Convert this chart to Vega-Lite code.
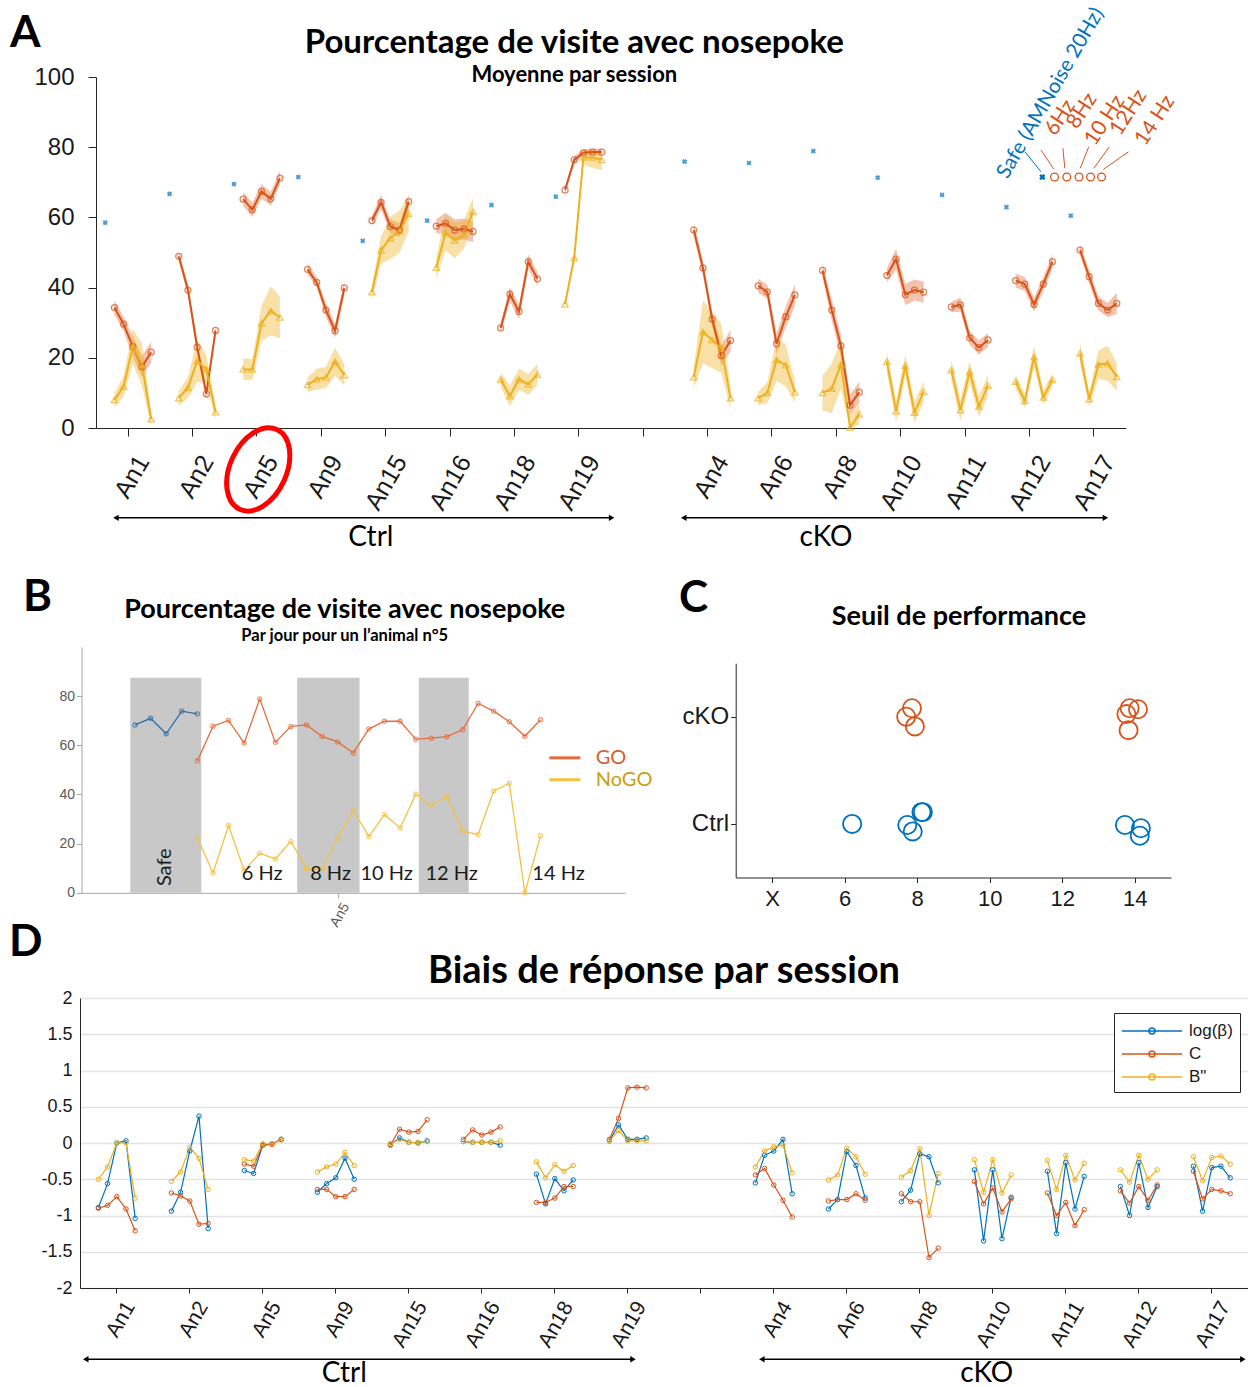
{
 "$schema": "https://vega.github.io/schema/vega-lite/v6.json",
 "autosize": {"type": "pad"},
 "padding": {"left": 8, "top": 4, "right": 0, "bottom": 0},
 "background": "white",
 "config": {
  "view": {"stroke": null},
  "font": "Liberation Sans",
  "axis": {"labelFont": "Liberation Sans", "grid": false, "domainColor": "#262626", "tickColor": "#262626", "labelColor": "#1a1a1a"},
  "text": {"font": "Lato"}
 },
 "datasets": {
  "aGO": [
   {"a":"An1","f":6,"v":34.3,"lo":32.3,"hi":36.3},{"a":"An1","f":8,"v":29.6,"lo":27.6,"hi":31.6},{"a":"An1","f":10,"v":23.2,"lo":20.2,"hi":26.2},{"a":"An1","f":12,"v":17.5,"lo":14.5,"hi":20.5},{"a":"An1","f":14,"v":21.6,"lo":18.6,"hi":24.6},
   {"a":"An2","f":6,"v":48.9,"lo":47.4,"hi":50.4},{"a":"An2","f":8,"v":39.3,"lo":37.8,"hi":40.8},{"a":"An2","f":10,"v":23.0,"lo":21,"hi":25},{"a":"An2","f":12,"v":9.7,"lo":8.2,"hi":11.2},{"a":"An2","f":14,"v":27.8,"lo":26.3,"hi":29.3},
   {"a":"An5","f":6,"v":65.2,"lo":63.2,"hi":67.2},{"a":"An5","f":8,"v":62.2,"lo":60.2,"hi":64.2},{"a":"An5","f":10,"v":67.4,"lo":65.4,"hi":69.4},{"a":"An5","f":12,"v":65.3,"lo":63.3,"hi":67.3},{"a":"An5","f":14,"v":71.2,"lo":69.2,"hi":73.2},
   {"a":"An9","f":6,"v":45.2,"lo":43.7,"hi":46.7},{"a":"An9","f":8,"v":41.5,"lo":40,"hi":43},{"a":"An9","f":10,"v":33.6,"lo":31.6,"hi":35.6},{"a":"An9","f":12,"v":27.7,"lo":25.7,"hi":29.7},{"a":"An9","f":14,"v":39.9,"lo":37.9,"hi":41.9},
   {"a":"An15","f":6,"v":59.1,"lo":57.6,"hi":60.6},{"a":"An15","f":8,"v":64.3,"lo":62.3,"hi":66.3},{"a":"An15","f":10,"v":57.4,"lo":55.4,"hi":59.4},{"a":"An15","f":12,"v":56.4,"lo":54.4,"hi":58.4},{"a":"An15","f":14,"v":64.5,"lo":62.5,"hi":66.5},
   {"a":"An16","f":6,"v":57.5,"lo":55.5,"hi":59.5},{"a":"An16","f":8,"v":58.3,"lo":55.3,"hi":61.3},{"a":"An16","f":10,"v":56.4,"lo":53.4,"hi":59.4},{"a":"An16","f":12,"v":56.7,"lo":53.7,"hi":59.7},{"a":"An16","f":14,"v":56.0,"lo":53,"hi":59},
   {"a":"An18","f":6,"v":28.5,"lo":27,"hi":30},{"a":"An18","f":8,"v":38.1,"lo":36.1,"hi":40.1},{"a":"An18","f":10,"v":33.2,"lo":31.2,"hi":35.2},{"a":"An18","f":12,"v":47.4,"lo":45.4,"hi":49.4},{"a":"An18","f":14,"v":42.5,"lo":40.5,"hi":44.5},
   {"a":"An19","f":6,"v":67.8,"lo":66.8,"hi":68.8},{"a":"An19","f":8,"v":76.4,"lo":75.4,"hi":77.4},{"a":"An19","f":10,"v":78.4,"lo":77.4,"hi":79.4},{"a":"An19","f":12,"v":78.6,"lo":77.6,"hi":79.6},{"a":"An19","f":14,"v":78.6,"lo":77.6,"hi":79.6},
   {"a":"An4","f":6,"v":56.4,"lo":54.4,"hi":58.4},{"a":"An4","f":8,"v":45.6,"lo":43.6,"hi":47.6},{"a":"An4","f":10,"v":31.0,"lo":29,"hi":33},{"a":"An4","f":12,"v":20.6,"lo":17.6,"hi":23.6},{"a":"An4","f":14,"v":24.9,"lo":21.9,"hi":27.9},
   {"a":"An6","f":6,"v":40.5,"lo":38.5,"hi":42.5},{"a":"An6","f":8,"v":38.8,"lo":36.8,"hi":40.8},{"a":"An6","f":10,"v":24.0,"lo":21,"hi":27},{"a":"An6","f":12,"v":31.7,"lo":28.7,"hi":34.7},{"a":"An6","f":14,"v":37.9,"lo":34.9,"hi":40.9},
   {"a":"An8","f":6,"v":44.9,"lo":42.9,"hi":46.9},{"a":"An8","f":8,"v":33.6,"lo":30.6,"hi":36.6},{"a":"An8","f":10,"v":23.4,"lo":20.4,"hi":26.4},{"a":"An8","f":12,"v":6.5,"lo":3.5,"hi":9.5},{"a":"An8","f":14,"v":10.2,"lo":7.2,"hi":13.2},
   {"a":"An10","f":6,"v":43.5,"lo":41.5,"hi":45.5},{"a":"An10","f":8,"v":48.1,"lo":45.1,"hi":51.1},{"a":"An10","f":10,"v":38.0,"lo":35,"hi":41},{"a":"An10","f":12,"v":39.3,"lo":36.3,"hi":42.3},{"a":"An10","f":14,"v":38.7,"lo":35.7,"hi":41.7},
   {"a":"An11","f":6,"v":34.5,"lo":33,"hi":36},{"a":"An11","f":8,"v":35.1,"lo":33.1,"hi":37.1},{"a":"An11","f":10,"v":25.7,"lo":23.7,"hi":27.7},{"a":"An11","f":12,"v":22.9,"lo":20.9,"hi":24.9},{"a":"An11","f":14,"v":25.1,"lo":23.1,"hi":27.1},
   {"a":"An12","f":6,"v":42.0,"lo":40,"hi":44},{"a":"An12","f":8,"v":41.0,"lo":39,"hi":43},{"a":"An12","f":10,"v":35.2,"lo":33.2,"hi":37.2},{"a":"An12","f":12,"v":41.0,"lo":39,"hi":43},{"a":"An12","f":14,"v":47.4,"lo":45.4,"hi":49.4},
   {"a":"An17","f":6,"v":50.7,"lo":49.2,"hi":52.2},{"a":"An17","f":8,"v":43.1,"lo":41.1,"hi":45.1},{"a":"An17","f":10,"v":35.5,"lo":33.5,"hi":37.5},{"a":"An17","f":12,"v":33.6,"lo":31.6,"hi":35.6},{"a":"An17","f":14,"v":35.5,"lo":32.5,"hi":38.5}
  ],
  "aNoGO": [
   {"a":"An1","f":6,"v":8.0,"lo":6,"hi":10},{"a":"An1","f":8,"v":11.8,"lo":8.8,"hi":14.8},{"a":"An1","f":10,"v":23.2,"lo":18.2,"hi":28.2},{"a":"An1","f":12,"v":18.0,"lo":12,"hi":24},{"a":"An1","f":14,"v":2.5,"lo":0.5,"hi":4.5},
   {"a":"An2","f":6,"v":8.5,"lo":6.5,"hi":10.5},{"a":"An2","f":8,"v":11.5,"lo":8.5,"hi":14.5},{"a":"An2","f":10,"v":19.1,"lo":13.1,"hi":25.1},{"a":"An2","f":12,"v":16.7,"lo":12.7,"hi":20.7},{"a":"An2","f":14,"v":4.5,"lo":2.5,"hi":6.5},
   {"a":"An5","f":6,"v":16.7,"lo":13.7,"hi":19.7},{"a":"An5","f":8,"v":16.7,"lo":13.7,"hi":19.7},{"a":"An5","f":10,"v":29.8,"lo":24.8,"hi":34.8},{"a":"An5","f":12,"v":33.4,"lo":26.4,"hi":40.4},{"a":"An5","f":14,"v":31.5,"lo":25.5,"hi":37.5},
   {"a":"An9","f":6,"v":12.3,"lo":10.3,"hi":14.3},{"a":"An9","f":8,"v":13.9,"lo":10.9,"hi":16.9},{"a":"An9","f":10,"v":14.4,"lo":11.4,"hi":17.4},{"a":"An9","f":12,"v":18.9,"lo":14.9,"hi":22.9},{"a":"An9","f":14,"v":15.1,"lo":12.1,"hi":18.1},
   {"a":"An15","f":6,"v":38.7,"lo":36.7,"hi":40.7},{"a":"An15","f":8,"v":50.7,"lo":46.7,"hi":54.7},{"a":"An15","f":10,"v":54.1,"lo":48.1,"hi":60.1},{"a":"An15","f":12,"v":56.0,"lo":50,"hi":62},{"a":"An15","f":14,"v":61.0,"lo":56,"hi":66},
   {"a":"An16","f":6,"v":45.7,"lo":42.7,"hi":48.7},{"a":"An16","f":8,"v":55.6,"lo":50.6,"hi":60.6},{"a":"An16","f":10,"v":53.4,"lo":48.4,"hi":58.4},{"a":"An16","f":12,"v":55.1,"lo":51.1,"hi":59.1},{"a":"An16","f":14,"v":61.6,"lo":57.6,"hi":65.6},
   {"a":"An18","f":6,"v":13.8,"lo":11.8,"hi":15.8},{"a":"An18","f":8,"v":9.1,"lo":6.1,"hi":12.1},{"a":"An18","f":10,"v":13.9,"lo":10.9,"hi":16.9},{"a":"An18","f":12,"v":12.4,"lo":9.4,"hi":15.4},{"a":"An18","f":14,"v":15.2,"lo":12.2,"hi":18.2},
   {"a":"An19","f":6,"v":35.3,"lo":34.3,"hi":36.3},{"a":"An19","f":8,"v":48.5,"lo":47.5,"hi":49.5},{"a":"An19","f":10,"v":77.1,"lo":75.1,"hi":79.1},{"a":"An19","f":12,"v":77.1,"lo":74.1,"hi":79.1},{"a":"An19","f":14,"v":76.4,"lo":73.4,"hi":78.4},
   {"a":"An4","f":6,"v":14.5,"lo":11.5,"hi":17.5},{"a":"An4","f":8,"v":27.4,"lo":18.4,"hi":36.4},{"a":"An4","f":10,"v":25.1,"lo":17.1,"hi":33.1},{"a":"An4","f":12,"v":22.7,"lo":15.7,"hi":29.7},{"a":"An4","f":14,"v":8.5,"lo":5.5,"hi":11.5},
   {"a":"An6","f":6,"v":8.5,"lo":6.5,"hi":10.5},{"a":"An6","f":8,"v":10.0,"lo":7,"hi":13},{"a":"An6","f":10,"v":19.4,"lo":13.4,"hi":25.4},{"a":"An6","f":12,"v":17.9,"lo":11.9,"hi":23.9},{"a":"An6","f":14,"v":10.2,"lo":7.2,"hi":13.2},
   {"a":"An8","f":6,"v":10.0,"lo":5,"hi":15},{"a":"An8","f":8,"v":11.2,"lo":4.2,"hi":18.2},{"a":"An8","f":10,"v":18.1,"lo":11.1,"hi":25.1},{"a":"An8","f":12,"v":0.2,"lo":0,"hi":3.2},{"a":"An8","f":14,"v":3.9,"lo":0.9,"hi":6.9},
   {"a":"An10","f":6,"v":18.9,"lo":15.9,"hi":21.9},{"a":"An10","f":8,"v":4.8,"lo":1.8,"hi":7.8},{"a":"An10","f":10,"v":17.8,"lo":14.8,"hi":20.8},{"a":"An10","f":12,"v":4.4,"lo":1.4,"hi":7.4},{"a":"An10","f":14,"v":10.3,"lo":7.3,"hi":13.3},
   {"a":"An11","f":6,"v":16.5,"lo":13.5,"hi":19.5},{"a":"An11","f":8,"v":5.1,"lo":2.1,"hi":8.1},{"a":"An11","f":10,"v":16.0,"lo":13,"hi":19},{"a":"An11","f":12,"v":6.1,"lo":3.1,"hi":9.1},{"a":"An11","f":14,"v":12.1,"lo":9.1,"hi":15.1},
   {"a":"An12","f":6,"v":13.2,"lo":11.2,"hi":15.2},{"a":"An12","f":8,"v":7.7,"lo":5.7,"hi":9.7},{"a":"An12","f":10,"v":20.3,"lo":17.3,"hi":23.3},{"a":"An12","f":12,"v":8.7,"lo":6.7,"hi":10.7},{"a":"An12","f":14,"v":13.7,"lo":11.7,"hi":15.7},
   {"a":"An17","f":6,"v":21.3,"lo":18.3,"hi":24.3},{"a":"An17","f":8,"v":8.2,"lo":6.2,"hi":10.2},{"a":"An17","f":10,"v":18.1,"lo":14.1,"hi":22.1},{"a":"An17","f":12,"v":18.4,"lo":13.4,"hi":23.4},{"a":"An17","f":14,"v":14.6,"lo":10.6,"hi":18.6}
  ],
  "aSafe": [
   {"a":"An1","f":0,"v":58.5},{"a":"An2","f":0,"v":66.7},{"a":"An5","f":0,"v":69.5},{"a":"An9","f":0,"v":71.5},{"a":"An15","f":0,"v":53.3},{"a":"An16","f":0,"v":59.1},{"a":"An18","f":0,"v":63.5},{"a":"An19","f":0,"v":65.9},
   {"a":"An4","f":0,"v":75.9},{"a":"An6","f":0,"v":75.5},{"a":"An8","f":0,"v":78.9},{"a":"An10","f":0,"v":71.3},{"a":"An11","f":0,"v":66.4},{"a":"An12","f":0,"v":62.9},{"a":"An17","f":0,"v":60.5}
  ],
  "bSer": [
   {"s":"Safe","d":0,"v":68.3},{"s":"Safe","d":1,"v":71.0},{"s":"Safe","d":2,"v":64.7},{"s":"Safe","d":3,"v":73.9},{"s":"Safe","d":4,"v":72.8},
   {"s":"GO","d":4,"v":53.6},{"s":"GO","d":5,"v":67.8},{"s":"GO","d":6,"v":70.1},{"s":"GO","d":7,"v":60.9},{"s":"GO","d":8,"v":78.9},{"s":"GO","d":9,"v":61.2},{"s":"GO","d":10,"v":67.7},{"s":"GO","d":11,"v":68.3},{"s":"GO","d":12,"v":63.6},{"s":"GO","d":13,"v":61.4},{"s":"GO","d":14,"v":56.9},{"s":"GO","d":15,"v":66.7},{"s":"GO","d":16,"v":69.8},{"s":"GO","d":17,"v":69.8},{"s":"GO","d":18,"v":62.5},{"s":"GO","d":19,"v":62.9},{"s":"GO","d":20,"v":63.5},{"s":"GO","d":21,"v":66.3},{"s":"GO","d":22,"v":77.0},{"s":"GO","d":23,"v":73.9},{"s":"GO","d":24,"v":69.6},{"s":"GO","d":25,"v":63.7},{"s":"GO","d":26,"v":70.4},
   {"s":"NoGO","d":4,"v":22.4},{"s":"NoGO","d":5,"v":8.1},{"s":"NoGO","d":6,"v":27.4},{"s":"NoGO","d":7,"v":9.1},{"s":"NoGO","d":8,"v":16.1},{"s":"NoGO","d":9,"v":13.8},{"s":"NoGO","d":10,"v":20.9},{"s":"NoGO","d":11,"v":9.8},{"s":"NoGO","d":12,"v":9.6},{"s":"NoGO","d":13,"v":22.4},{"s":"NoGO","d":14,"v":33.5},{"s":"NoGO","d":15,"v":22.9},{"s":"NoGO","d":16,"v":31.9},{"s":"NoGO","d":17,"v":26.4},{"s":"NoGO","d":18,"v":40.1},{"s":"NoGO","d":19,"v":35.5},{"s":"NoGO","d":20,"v":39.1},{"s":"NoGO","d":21,"v":25.1},{"s":"NoGO","d":22,"v":23.7},{"s":"NoGO","d":23,"v":41.4},{"s":"NoGO","d":24,"v":44.6},{"s":"NoGO","d":25,"v":0},{"s":"NoGO","d":26,"v":23.2}
  ],
  "cPts": [
   {"g":"cKO","x":7.86,"y":1.08},{"g":"cKO","x":7.70,"y":1.0},{"g":"cKO","x":7.94,"y":0.91},{"g":"cKO","x":13.86,"y":1.08},{"g":"cKO","x":14.09,"y":1.07},{"g":"cKO","x":13.77,"y":1.025},{"g":"cKO","x":13.83,"y":0.875},
   {"g":"Ctrl","x":6.21,"y":0.0},{"g":"Ctrl","x":7.73,"y":-0.01},{"g":"Ctrl","x":7.88,"y":-0.07},{"g":"Ctrl","x":8.12,"y":0.11},{"g":"Ctrl","x":8.16,"y":0.11},{"g":"Ctrl","x":13.73,"y":-0.01},{"g":"Ctrl","x":14.17,"y":-0.04},{"g":"Ctrl","x":14.14,"y":-0.11}
  ],
  "dB": [
   {"a":"An1","f":6,"lb":-0.89,"c":-0.90,"b":-0.50},{"a":"An1","f":8,"lb":-0.56,"c":-0.86,"b":-0.33},{"a":"An1","f":10,"lb":0,"c":-0.74,"b":0},{"a":"An1","f":12,"lb":0.03,"c":-0.91,"b":0},{"a":"An1","f":14,"lb":-1.04,"c":-1.21,"b":-0.76},
   {"a":"An2","f":6,"lb":-0.94,"c":-0.69,"b":-0.53},{"a":"An2","f":8,"lb":-0.68,"c":-0.73,"b":-0.40},{"a":"An2","f":10,"lb":-0.11,"c":-0.80,"b":-0.06},{"a":"An2","f":12,"lb":0.37,"c":-1.12,"b":-0.21},{"a":"An2","f":14,"lb":-1.18,"c":-1.11,"b":-0.64},
   {"a":"An5","f":6,"lb":-0.38,"c":-0.29,"b":-0.23},{"a":"An5","f":8,"lb":-0.42,"c":-0.32,"b":-0.25},{"a":"An5","f":10,"lb":-0.03,"c":-0.03,"b":-0.01},{"a":"An5","f":12,"lb":-0.01,"c":-0.02,"b":-0.01},{"a":"An5","f":14,"lb":0.05,"c":0.05,"b":0.04},
   {"a":"An9","f":6,"lb":-0.68,"c":-0.64,"b":-0.40},{"a":"An9","f":8,"lb":-0.56,"c":-0.64,"b":-0.33},{"a":"An9","f":10,"lb":-0.48,"c":-0.74,"b":-0.29},{"a":"An9","f":12,"lb":-0.21,"c":-0.74,"b":-0.13},{"a":"An9","f":14,"lb":-0.50,"c":-0.64,"b":-0.31},
   {"a":"An15","f":6,"lb":-0.02,"c":-0.03,"b":-0.01},{"a":"An15","f":8,"lb":0.07,"c":0.19,"b":0.05},{"a":"An15","f":10,"lb":0.01,"c":0.15,"b":0.01},{"a":"An15","f":12,"lb":0.00,"c":0.16,"b":0.01},{"a":"An15","f":14,"lb":0.03,"c":0.32,"b":0.02},
   {"a":"An16","f":6,"lb":0.02,"c":0.05,"b":0.02},{"a":"An16","f":8,"lb":0.01,"c":0.18,"b":0.01},{"a":"An16","f":10,"lb":0.01,"c":0.11,"b":0.01},{"a":"An16","f":12,"lb":0.01,"c":0.15,"b":0.01},{"a":"An16","f":14,"lb":-0.03,"c":0.22,"b":0.03},
   {"a":"An18","f":6,"lb":-0.43,"c":-0.82,"b":-0.26},{"a":"An18","f":8,"lb":-0.84,"c":-0.82,"b":-0.48},{"a":"An18","f":10,"lb":-0.49,"c":-0.76,"b":-0.30},{"a":"An18","f":12,"lb":-0.66,"c":-0.60,"b":-0.39},{"a":"An18","f":14,"lb":-0.51,"c":-0.60,"b":-0.31},
   {"a":"An19","f":6,"lb":0.03,"c":0.05,"b":0.03},{"a":"An19","f":8,"lb":0.25,"c":0.34,"b":0.17},{"a":"An19","f":10,"lb":0.05,"c":0.76,"b":0.03},{"a":"An19","f":12,"lb":0.05,"c":0.77,"b":0.03},{"a":"An19","f":14,"lb":0.07,"c":0.76,"b":0.03},
   {"a":"An4","f":6,"lb":-0.55,"c":-0.44,"b":-0.33},{"a":"An4","f":8,"lb":-0.17,"c":-0.35,"b":-0.11},{"a":"An4","f":10,"lb":-0.11,"c":-0.58,"b":-0.05},{"a":"An4","f":12,"lb":0.05,"c":-0.79,"b":-0.03},{"a":"An4","f":14,"lb":-0.70,"c":-1.02,"b":-0.41},
   {"a":"An6","f":6,"lb":-0.91,"c":-0.80,"b":-0.51},{"a":"An6","f":8,"lb":-0.78,"c":-0.78,"b":-0.44},{"a":"An6","f":10,"lb":-0.12,"c":-0.78,"b":-0.07},{"a":"An6","f":12,"lb":-0.31,"c":-0.70,"b":-0.19},{"a":"An6","f":14,"lb":-0.76,"c":-0.79,"b":-0.43},
   {"a":"An8","f":6,"lb":-0.81,"c":-0.70,"b":-0.47},{"a":"An8","f":8,"lb":-0.65,"c":-0.81,"b":-0.38},{"a":"An8","f":10,"lb":-0.15,"c":-0.81,"b":-0.08},{"a":"An8","f":12,"lb":-0.19,"c":-1.58,"b":-1.00},{"a":"An8","f":14,"lb":-0.55,"c":-1.45,"b":-0.42},
   {"a":"An10","f":6,"lb":-0.37,"c":-0.53,"b":-0.23},{"a":"An10","f":8,"lb":-1.35,"c":-0.84,"b":-0.68},{"a":"An10","f":10,"lb":-0.37,"c":-0.62,"b":-0.23},{"a":"An10","f":12,"lb":-1.32,"c":-0.95,"b":-0.69},{"a":"An10","f":14,"lb":-0.75,"c":-0.77,"b":-0.44},
   {"a":"An11","f":6,"lb":-0.39,"c":-0.69,"b":-0.24},{"a":"An11","f":8,"lb":-1.25,"c":-1.00,"b":-0.64},{"a":"An11","f":10,"lb":-0.27,"c":-0.82,"b":-0.17},{"a":"An11","f":12,"lb":-0.91,"c":-1.14,"b":-0.51},{"a":"An11","f":14,"lb":-0.46,"c":-0.92,"b":-0.28},
   {"a":"An12","f":6,"lb":-0.60,"c":-0.66,"b":-0.37},{"a":"An12","f":8,"lb":-1.00,"c":-0.83,"b":-0.54},{"a":"An12","f":10,"lb":-0.27,"c":-0.60,"b":-0.17},{"a":"An12","f":12,"lb":-0.89,"c":-0.79,"b":-0.50},{"a":"An12","f":14,"lb":-0.60,"c":-0.58,"b":-0.37},
   {"a":"An17","f":6,"lb":-0.32,"c":-0.39,"b":-0.19},{"a":"An17","f":8,"lb":-0.94,"c":-0.77,"b":-0.52},{"a":"An17","f":10,"lb":-0.34,"c":-0.64,"b":-0.20},{"a":"An17","f":12,"lb":-0.32,"c":-0.66,"b":-0.18},{"a":"An17","f":14,"lb":-0.48,"c":-0.70,"b":-0.29}
  ]
 },
 "vconcat": [
  {
   "width": 1046, "height": 351,
   "layer": [
    {
     "encoding": {
      "x": {"field": "a", "type": "nominal", "title": null, "scale": {"domain": ["An1","An2","An5","An9","An15","An16","An18","An19"," ","An4","An6","An8","An10","An11","An12","An17"], "range": [16, 1046], "paddingInner": 0, "paddingOuter": 0}, "axis": {"labelAngle": -60, "labelFontSize": 25, "tickSize": 8, "labelPadding": 21, "labelOffset": 15}},
      "xOffset": {"field": "f", "type": "nominal", "scale": {"domain": [0,6,8,10,12,14], "paddingInner": 0, "paddingOuter": 1.1667}},
      "y": {"field": "v", "type": "quantitative", "title": null, "scale": {"domain": [0,100], "nice": false, "zero": false}, "axis": {"values": [0,20,40,60,80,100], "labelFontSize": 24, "tickSize": 8, "labelPadding": 14, "offset": -16, "title": null}}
     },
     "layer": [
      {"data": {"name": "aGO"}, "mark": {"type": "area", "color": "#D95319", "opacity": 0.35}, "encoding": {"y": {"field": "lo", "type": "quantitative", "title": null, "scale": {"domain": [0,100], "nice": false, "zero": false}}, "y2": {"field": "hi"}, "detail": {"field": "a"}}},
      {"data": {"name": "aNoGO"}, "mark": {"type": "area", "color": "#EDB120", "opacity": 0.4}, "encoding": {"y": {"field": "lo", "type": "quantitative", "title": null, "scale": {"domain": [0,100], "nice": false, "zero": false}}, "y2": {"field": "hi"}, "detail": {"field": "a"}}},
      {"data": {"name": "aGO"}, "mark": {"type": "line", "color": "#D95319", "strokeWidth": 2}, "encoding": {"detail": {"field": "a"}, "order": {"field": "f", "type": "quantitative"}}},
      {"data": {"name": "aNoGO"}, "mark": {"type": "line", "color": "#EDB120", "strokeWidth": 2}, "encoding": {"detail": {"field": "a"}, "order": {"field": "f", "type": "quantitative"}}},
      {"data": {"name": "aGO"}, "mark": {"type": "point", "shape": "circle", "filled": false, "color": "#D95319", "size": 36, "strokeWidth": 1.3}},
      {"data": {"name": "aNoGO"}, "mark": {"type": "point", "shape": "triangle-up", "filled": false, "color": "#EDB120", "size": 40, "strokeWidth": 1.3}},
      {"data": {"name": "aSafe"}, "mark": {"type": "point", "shape": "cross", "angle": 45, "filled": true, "color": "#0072BD", "size": 28}}
     ]
    },
    {
     "encoding": {
      "x": {"field": "x", "type": "quantitative", "title": null, "scale": {"domain": [0.5, 16.5], "range": [16, 1046], "nice": false, "zero": false}, "axis": null},
      "y": {"field": "y", "type": "quantitative", "title": null, "scale": {"domain": [0,100], "nice": false, "zero": false}}
     },
     "layer": [
      {"data": {"values": [{"x": 7.93, "y": 106.8, "t": "Pourcentage de visite avec nosepoke"}]}, "mark": {"type": "text", "fontSize": 33, "fontWeight": "bold", "align": "center", "baseline": "alphabetic", "color": "#000000"}, "encoding": {"text": {"field": "t"}}},
      {"data": {"values": [{"x": 7.93, "y": 98.6, "t": "Moyenne par session"}]}, "mark": {"type": "text", "fontSize": 22, "fontWeight": "bold", "align": "center", "baseline": "alphabetic", "color": "#000000"}, "encoding": {"text": {"field": "t"}}},
      {"data": {"values": [{"x": -0.836, "y": 108.5, "t": "A"}]}, "mark": {"type": "text", "fontSize": 44, "fontWeight": "bold", "align": "left", "baseline": "alphabetic", "color": "#000000"}, "encoding": {"text": {"field": "t"}}},
      {"data": {"values": [{"x": 4.77, "y": -31.3, "t": "Ctrl"}, {"x": 11.84, "y": -31.3, "t": "cKO"}]}, "mark": {"type": "text", "fontSize": 28, "align": "center", "baseline": "middle", "color": "#000000"}, "encoding": {"text": {"field": "t"}}},
      {"data": {"values": [{"x": 0.81, "x2": 8.51, "y": -25.6}, {"x": 9.63, "x2": 16.18, "y": -25.6}]}, "mark": {"type": "rule", "color": "#000000", "strokeWidth": 1.5}, "encoding": {"x2": {"field": "x2"}}},
      {"data": {"values": [{"x": 0.81, "y": -25.6, "d": "l"}, {"x": 8.51, "y": -25.6, "d": "r"}, {"x": 9.63, "y": -25.6, "d": "l"}, {"x": 16.18, "y": -25.6, "d": "r"}]}, "mark": {"type": "point", "filled": true, "color": "#000000", "size": 40, "opacity": 1}, "encoding": {"shape": {"field": "d", "type": "nominal", "scale": {"domain": ["l","r"], "range": ["triangle-left","triangle-right"]}, "legend": null}}},
      {"data": {"values": [{"x": 3.02, "y": -11.8}]}, "mark": {"type": "point", "shape": "M0,-1 A0.64,1 0 1,1 0,1 A0.64,1 0 1,1 0,-1 Z", "size": 7744, "angle": 25, "filled": false, "stroke": "#FF0000", "strokeWidth": 5, "opacity": 1}},
      {"data": {"values": [{"x": 14.66, "y": 70.7, "t": "Safe (AMNoise 20Hz)"}]}, "mark": {"type": "text", "fontSize": 20.5, "angle": 300, "align": "left", "baseline": "alphabetic", "color": "#0072BD"}, "encoding": {"text": {"field": "t"}}},
      {"data": {"values": [{"x": 15.4, "y": 83.0, "t": "6Hz"}, {"x": 15.74, "y": 84.9, "t": "8Hz"}, {"x": 16.02, "y": 80.1, "t": "10 Hz"}, {"x": 16.41, "y": 83.0, "t": "12Hz"}, {"x": 16.8, "y": 80.1, "t": "14 Hz"}]}, "mark": {"type": "text", "fontSize": 21, "angle": 303, "align": "left", "baseline": "alphabetic", "color": "#D95319"}, "encoding": {"text": {"field": "t"}}},
      {"data": {"values": [{"x": 14.93, "y": 78.7, "x2": 15.18, "y2": 73.0}]}, "mark": {"type": "rule", "color": "#0072BD", "strokeWidth": 1}, "encoding": {"x2": {"field": "x2"}, "y2": {"field": "y2"}}},
      {"data": {"values": [{"x": 15.18, "y": 79.2, "x2": 15.38, "y2": 73.7}, {"x": 15.52, "y": 79.7, "x2": 15.55, "y2": 74.0}, {"x": 15.92, "y": 80.1, "x2": 15.79, "y2": 74.0}, {"x": 16.24, "y": 80.1, "x2": 16.0, "y2": 74.0}, {"x": 16.54, "y": 78.7, "x2": 16.15, "y2": 73.7}]}, "mark": {"type": "rule", "color": "#D95319", "strokeWidth": 1}, "encoding": {"x2": {"field": "x2"}, "y2": {"field": "y2"}}},
      {"data": {"values": [{"x": 15.2, "y": 71.5}]}, "mark": {"type": "point", "shape": "cross", "angle": 45, "filled": true, "color": "#0072BD", "size": 40, "opacity": 1}},
      {"data": {"values": [{"x": 15.39, "y": 71.5}, {"x": 15.58, "y": 71.5}, {"x": 15.77, "y": 71.5}, {"x": 15.95, "y": 71.5}, {"x": 16.12, "y": 71.5}]}, "mark": {"type": "point", "shape": "circle", "filled": false, "color": "#D95319", "size": 60, "strokeWidth": 1.3, "opacity": 1}}
     ]
    }
   ],
   "resolve": {"scale": {"x": "independent"}}
  },
  {"width": 1, "height": 8.5, "data": {"values": []}, "mark": "point"},
  {
   "width": 1091, "height": 245.8,
   "layer": [
    {
     "layer": [
      {"data": {"values": [{"x1": -0.3, "x2": 4.25}, {"x1": 10.4, "x2": 14.4}, {"x1": 18.2, "x2": 21.4}]}, "mark": {"type": "rect", "color": "#C8C8C8"},
       "encoding": {
        "x": {"field": "x1", "type": "quantitative", "title": null, "scale": {"domain": [-3.43, 31.42], "range": [1.5, 545], "nice": false, "zero": false}, "axis": {"values": [13], "labelExpr": "'An5'", "labelAngle": -60, "labelFontSize": 14, "labelColor": "#595959", "domainColor": "#A6A6A6", "tickColor": "#A6A6A6", "tickSize": 5, "labelOffset": 8, "labelPadding": 6, "title": null}},
        "x2": {"field": "x2"},
        "y": {"datum": 0, "type": "quantitative", "title": null, "scale": {"domain": [0,100], "range": [245.8, 0], "nice": false, "zero": false}, "axis": {"values": [0,20,40,60,80], "labelFontSize": 14, "labelColor": "#595959", "domainColor": "#A6A6A6", "tickColor": "#A6A6A6", "tickSize": 5, "offset": -1.5, "title": null}},
        "y2": {"datum": 87.5}
       }},
      {"data": {"name": "bSer"}, "mark": {"type": "line", "strokeWidth": 1.3},
       "encoding": {
        "x": {"field": "d", "type": "quantitative", "title": null, "scale": {"domain": [-3.43, 31.42], "range": [1.5, 545], "nice": false, "zero": false}},
        "y": {"field": "v", "type": "quantitative", "title": null, "scale": {"domain": [0,100], "range": [245.8, 0], "nice": false, "zero": false}},
        "color": {"field": "s", "type": "nominal", "scale": {"domain": ["Safe","GO","NoGO"], "range": ["#2E6DA4","#E46C3A","#F4C242"]}, "legend": null},
        "order": {"field": "d", "type": "quantitative"}
       }},
      {"data": {"name": "bSer"}, "mark": {"type": "point", "filled": false, "size": 18, "strokeWidth": 1.2},
       "encoding": {
        "x": {"field": "d", "type": "quantitative", "title": null, "scale": {"domain": [-3.43, 31.42], "range": [1.5, 545], "nice": false, "zero": false}},
        "y": {"field": "v", "type": "quantitative", "title": null, "scale": {"domain": [0,100], "range": [245.8, 0], "nice": false, "zero": false}},
        "color": {"field": "s", "type": "nominal", "scale": {"domain": ["Safe","GO","NoGO"], "range": ["#2E6DA4","#E46C3A","#F4C242"]}, "legend": null}
       }},
      {"data": {"values": [{"x": 8.15, "y": 7.7, "t": "6 Hz"}, {"x": 12.54, "y": 7.7, "t": "8 Hz"}, {"x": 16.14, "y": 7.7, "t": "10 Hz"}, {"x": 20.3, "y": 7.7, "t": "12 Hz"}, {"x": 27.16, "y": 7.7, "t": "14 Hz"}]}, "mark": {"type": "text", "fontSize": 20, "align": "center", "baseline": "middle", "color": "#1a1a1a"},
       "encoding": {"x": {"field": "x", "type": "quantitative", "title": null, "scale": {"domain": [-3.43, 31.42], "range": [1.5, 545], "nice": false, "zero": false}}, "y": {"field": "y", "type": "quantitative", "title": null, "scale": {"domain": [0,100], "range": [245.8, 0], "nice": false, "zero": false}}, "text": {"field": "t"}}},
      {"data": {"values": [{"x": 1.9, "y": 10.4, "t": "Safe"}]}, "mark": {"type": "text", "fontSize": 20, "angle": 270, "align": "center", "baseline": "middle", "color": "#1a1a1a"},
       "encoding": {"x": {"field": "x", "type": "quantitative", "title": null, "scale": {"domain": [-3.43, 31.42], "range": [1.5, 545], "nice": false, "zero": false}}, "y": {"field": "y", "type": "quantitative", "title": null, "scale": {"domain": [0,100], "range": [245.8, 0], "nice": false, "zero": false}}, "text": {"field": "t"}}},
      {"data": {"values": [{"x": 26.57, "x2": 28.56, "y": 54.9, "s": "GO"}, {"x": 26.57, "x2": 28.56, "y": 46.0, "s": "NoGO"}]}, "mark": {"type": "rule", "strokeWidth": 3},
       "encoding": {"x": {"field": "x", "type": "quantitative", "title": null, "scale": {"domain": [-3.43, 31.42], "range": [1.5, 545], "nice": false, "zero": false}}, "x2": {"field": "x2"}, "y": {"field": "y", "type": "quantitative", "title": null, "scale": {"domain": [0,100], "range": [245.8, 0], "nice": false, "zero": false}}, "color": {"field": "s", "type": "nominal", "scale": {"domain": ["Safe","GO","NoGO"], "range": ["#2E6DA4","#E46C3A","#F4C242"]}, "legend": null}}},
      {"data": {"values": [{"x": 29.54, "y": 54.9, "t": "GO"}]}, "mark": {"type": "text", "fontSize": 20, "align": "left", "baseline": "middle", "color": "#D4602A"},
       "encoding": {"x": {"field": "x", "type": "quantitative", "title": null, "scale": {"domain": [-3.43, 31.42], "range": [1.5, 545], "nice": false, "zero": false}}, "y": {"field": "y", "type": "quantitative", "title": null, "scale": {"domain": [0,100], "range": [245.8, 0], "nice": false, "zero": false}}, "text": {"field": "t"}}},
      {"data": {"values": [{"x": 29.54, "y": 46.0, "t": "NoGO"}]}, "mark": {"type": "text", "fontSize": 20, "align": "left", "baseline": "middle", "color": "#C99E10"},
       "encoding": {"x": {"field": "x", "type": "quantitative", "title": null, "scale": {"domain": [-3.43, 31.42], "range": [1.5, 545], "nice": false, "zero": false}}, "y": {"field": "y", "type": "quantitative", "title": null, "scale": {"domain": [0,100], "range": [245.8, 0], "nice": false, "zero": false}}, "text": {"field": "t"}}},
      {"data": {"values": [{"x": 13.45, "y": 112.0, "t": "Pourcentage de visite avec nosepoke"}]}, "mark": {"type": "text", "fontSize": 27, "fontWeight": "bold", "align": "center", "baseline": "alphabetic", "color": "#000000"},
       "encoding": {"x": {"field": "x", "type": "quantitative", "title": null, "scale": {"domain": [-3.43, 31.42], "range": [1.5, 545], "nice": false, "zero": false}}, "y": {"field": "y", "type": "quantitative", "title": null, "scale": {"domain": [0,100], "range": [245.8, 0], "nice": false, "zero": false}}, "text": {"field": "t"}}},
      {"data": {"values": [{"x": 13.45, "y": 102.3, "t": "Par jour pour un l’animal n°5"}]}, "mark": {"type": "text", "fontSize": 16.5, "fontWeight": "bold", "align": "center", "baseline": "alphabetic", "color": "#000000"},
       "encoding": {"x": {"field": "x", "type": "quantitative", "title": null, "scale": {"domain": [-3.43, 31.42], "range": [1.5, 545], "nice": false, "zero": false}}, "y": {"field": "y", "type": "quantitative", "title": null, "scale": {"domain": [0,100], "range": [245.8, 0], "nice": false, "zero": false}}, "text": {"field": "t"}}},
      {"data": {"values": [{"x": -7.18, "y": 114.5, "t": "B"}]}, "mark": {"type": "text", "fontSize": 44, "fontWeight": "bold", "align": "left", "baseline": "alphabetic", "color": "#000000"},
       "encoding": {"x": {"field": "x", "type": "quantitative", "title": null, "scale": {"domain": [-3.43, 31.42], "range": [1.5, 545], "nice": false, "zero": false}}, "y": {"field": "y", "type": "quantitative", "title": null, "scale": {"domain": [0,100], "range": [245.8, 0], "nice": false, "zero": false}}, "text": {"field": "t"}}}
     ]
    },
    {
     "layer": [
      {"data": {"name": "cPts"}, "mark": {"type": "point", "filled": false, "size": 330, "strokeWidth": 1.8, "opacity": 1},
       "encoding": {
        "x": {"field": "x", "type": "quantitative", "title": null, "scale": {"domain": [3,15], "range": [655.7, 1091], "nice": false, "zero": false}, "axis": {"orient": "bottom", "offset": -15.3, "values": [4,6,8,10,12,14], "labelExpr": "datum.value == 4 ? 'X' : '' + datum.value", "labelFontSize": 22, "tickSize": 5, "labelPadding": 6, "title": null}},
        "y": {"field": "y", "type": "quantitative", "title": null, "scale": {"domain": [-0.5,1.5], "range": [230.5, 16.2], "nice": false, "zero": false}, "axis": {"orient": "left", "offset": -655.7, "values": [0,1], "labelExpr": "datum.value == 1 ? 'cKO' : 'Ctrl'", "labelFontSize": 24, "tickSize": 5, "title": null}},
        "color": {"field": "g", "type": "nominal", "scale": {"domain": ["Ctrl","cKO"], "range": ["#0072BD","#D95319"]}, "legend": null}
       }},
      {"data": {"values": [{"x": 9.155, "y": 1.861, "t": "Seuil de performance"}]}, "mark": {"type": "text", "fontSize": 27, "fontWeight": "bold", "align": "center", "baseline": "alphabetic", "color": "#000000"},
       "encoding": {"x": {"field": "x", "type": "quantitative", "title": null, "scale": {"domain": [3,15], "range": [655.7, 1091], "nice": false, "zero": false}}, "y": {"field": "y", "type": "quantitative", "title": null, "scale": {"domain": [-0.5,1.5], "range": [230.5, 16.2], "nice": false, "zero": false}}, "text": {"field": "t"}}},
      {"data": {"values": [{"x": 1.437, "y": 1.982, "t": "C"}]}, "mark": {"type": "text", "fontSize": 44, "fontWeight": "bold", "align": "left", "baseline": "alphabetic", "color": "#000000"},
       "encoding": {"x": {"field": "x", "type": "quantitative", "title": null, "scale": {"domain": [3,15], "range": [655.7, 1091], "nice": false, "zero": false}}, "y": {"field": "y", "type": "quantitative", "title": null, "scale": {"domain": [-0.5,1.5], "range": [230.5, 16.2], "nice": false, "zero": false}}, "text": {"field": "t"}}}
     ]
    }
   ],
   "resolve": {"scale": {"x": "independent", "y": "independent", "color": "independent"}}
  },
  {
   "width": 1168, "height": 290,
   "layer": [
    {"mark": {"type": "rule", "color": "#262626", "strokeWidth": 1.2}, "encoding": {"y": {"datum": 0, "type": "quantitative", "title": null, "scale": {"domain": [-2,2], "nice": false, "zero": false}, "axis": {"values": [-2,-1.5,-1,-0.5,0,0.5,1,1.5,2], "tickCount": 9, "labelOverlap": false, "labelExpr": "'' + datum.value", "grid": true, "gridColor": "#E3E3E3", "gridWidth": 1.5, "labelFontSize": 18, "tickSize": 0, "labelPadding": 8, "title": null}}}},
    {
     "data": {"name": "dB"},
     "transform": [{"fold": ["lb","c","b"], "as": ["m","v"]}],
     "encoding": {
      "x": {"field": "a", "type": "nominal", "title": null, "scale": {"domain": ["An1","An2","An5","An9","An15","An16","An18","An19"," ","An4","An6","An8","An10","An11","An12","An17"], "paddingInner": 0, "paddingOuter": 0}, "axis": {"labelAngle": -60, "labelFontSize": 21, "tickSize": 5, "labelPadding": 10, "labelOffset": 14}},
      "xOffset": {"field": "f", "type": "nominal", "scale": {"domain": [0,6,8,10,12,14], "paddingInner": 0, "paddingOuter": 1.1667}},
      "y": {"field": "v", "type": "quantitative", "title": null, "scale": {"domain": [-2,2], "nice": false, "zero": false}, "axis": {"values": [-2,-1.5,-1,-0.5,0,0.5,1,1.5,2], "tickCount": 9, "labelOverlap": false, "labelExpr": "'' + datum.value", "grid": true, "gridColor": "#E3E3E3", "gridWidth": 1.5, "labelFontSize": 18, "tickSize": 0, "labelPadding": 8, "title": null}},
      "color": {"field": "m", "type": "nominal", "scale": {"domain": ["lb","c","b"], "range": ["#0072BD","#D95319","#EDB120"]}, "legend": {"orient": "none", "legendX": 1034, "legendY": 15, "title": null, "symbolType": "M-3,0L3,0M0.3,0A0.3,0.3 0 1,1 -0.3,0A0.3,0.3 0 1,1 0.3,0", "symbolSize": 400, "symbolOffset": 20, "symbolStrokeWidth": 1.5, "labelOffset": 26, "labelFontSize": 17, "labelFont": "Liberation Sans", "labelColor": "#1a1a1a", "strokeColor": "#262626", "fillColor": "#ffffff", "padding": 7, "rowPadding": 4, "labelExpr": "datum.label == 'lb' ? 'log(β)' : datum.label == 'c' ? 'C' : 'B\"'"}},
      "detail": {"field": "a"}
     },
     "layer": [
      {"mark": {"type": "line", "strokeWidth": 1.2}, "encoding": {"order": {"field": "f", "type": "quantitative"}}},
      {"mark": {"type": "point", "filled": false, "size": 20, "strokeWidth": 1, "opacity": 1}}
     ]
    },
    {
     "layer": [
      {"data": {"values": [{"x": 8.5, "y": 2.207, "t": "Biais de réponse par session"}]}, "mark": {"type": "text", "fontSize": 38, "fontWeight": "bold", "align": "center", "baseline": "alphabetic", "color": "#000000"},
       "encoding": {"x": {"field": "x", "type": "quantitative", "title": null, "scale": {"domain": [0.5,16.5], "nice": false, "zero": false}, "axis": null}, "y": {"field": "y", "type": "quantitative", "title": null, "scale": {"domain": [-2,2], "nice": false, "zero": false}}, "text": {"field": "t"}}},
      {"data": {"values": [{"x": -0.473, "y": 2.579, "t": "D"}]}, "mark": {"type": "text", "fontSize": 44, "fontWeight": "bold", "align": "left", "baseline": "alphabetic", "color": "#000000"},
       "encoding": {"x": {"field": "x", "type": "quantitative", "title": null, "scale": {"domain": [0.5,16.5], "nice": false, "zero": false}, "axis": null}, "y": {"field": "y", "type": "quantitative", "title": null, "scale": {"domain": [-2,2], "nice": false, "zero": false}}, "text": {"field": "t"}}},
      {"data": {"values": [{"x": 4.12, "y": -3.187, "t": "Ctrl"}, {"x": 12.92, "y": -3.187, "t": "cKO"}]}, "mark": {"type": "text", "fontSize": 28, "align": "center", "baseline": "middle", "color": "#000000"},
       "encoding": {"x": {"field": "x", "type": "quantitative", "title": null, "scale": {"domain": [0.5,16.5], "nice": false, "zero": false}, "axis": null}, "y": {"field": "y", "type": "quantitative", "title": null, "scale": {"domain": [-2,2], "nice": false, "zero": false}}, "text": {"field": "t"}}},
      {"data": {"values": [{"x": 0.579, "x2": 8.075, "y": -2.983}, {"x": 9.84, "x2": 16.43, "y": -2.983}]}, "mark": {"type": "rule", "color": "#000000", "strokeWidth": 1.5},
       "encoding": {"x": {"field": "x", "type": "quantitative", "title": null, "scale": {"domain": [0.5,16.5], "nice": false, "zero": false}, "axis": null}, "x2": {"field": "x2"}, "y": {"field": "y", "type": "quantitative", "title": null, "scale": {"domain": [-2,2], "nice": false, "zero": false}}}},
      {"data": {"values": [{"x": 0.579, "y": -2.983, "d": "l"}, {"x": 8.075, "y": -2.983, "d": "r"}, {"x": 9.84, "y": -2.983, "d": "l"}, {"x": 16.43, "y": -2.983, "d": "r"}]}, "mark": {"type": "point", "filled": true, "color": "#000000", "size": 40, "opacity": 1},
       "encoding": {"x": {"field": "x", "type": "quantitative", "title": null, "scale": {"domain": [0.5,16.5], "nice": false, "zero": false}, "axis": null}, "y": {"field": "y", "type": "quantitative", "title": null, "scale": {"domain": [-2,2], "nice": false, "zero": false}}, "shape": {"field": "d", "type": "nominal", "scale": {"domain": ["l","r"], "range": ["triangle-left","triangle-right"]}, "legend": null}}}
     ]
    }
   ],
   "resolve": {"scale": {"x": "independent", "shape": "independent"}}
  }
 ],
 "spacing": 105,
 "bounds": "flush",
 "resolve": {"scale": {"color": "independent", "shape": "independent"}}
}
